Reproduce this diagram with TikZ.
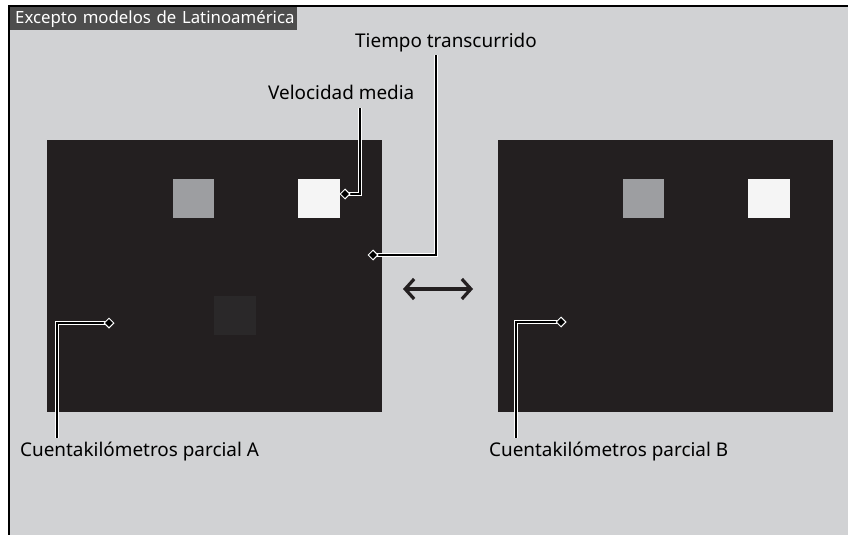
\documentclass[tikz,border=0pt]{standalone}
\usepackage{fontspec}
\setmainfont{Noto Sans}
\usetikzlibrary{shapes.geometric,arrows.meta}
\definecolor{bggray}{HTML}{D1D2D4}
\definecolor{panel}{HTML}{231F20}
\definecolor{hdr}{HTML}{4D4D4D}
\definecolor{midgray}{HTML}{9D9EA1}
\definecolor{offwhite}{HTML}{F5F5F5}
\definecolor{dimsq}{HTML}{2A2829}
\tikzset{
  panelbox/.style={fill=panel, draw=none, anchor=north west, inner sep=0pt, minimum width=335pt, minimum height=272pt},
  sq/.style={draw=none, anchor=north west, inner sep=0pt, minimum width=41pt, minimum height=39pt},
  lbl/.style={font=\fontsize{18.9}{22}\selectfont, text=black, inner sep=0pt, anchor=base west},
  pin/.style={diamond, fill=black, draw=white, line width=1pt, inner sep=0pt, minimum size=10pt},
  leader/.style={draw=white, double=black, double distance=1.7pt, line width=0.9pt},
}
\begin{document}
\begin{tikzpicture}[x=1pt,y=-1pt]
\useasboundingbox (0,0) rectangle (848,535);
\fill[bggray] (9,6) rectangle (848,535);
\draw[black, line width=1.4pt] (9,535) -- (9,6) -- (848,6);
% header
\node[fill=hdr, text=white, anchor=north west, inner sep=0pt, minimum width=287pt, minimum height=23pt, text width=283pt, align=left, font=\fontsize{16.8}{19}\selectfont] (hdr) at (10,7) {\hspace*{3pt}Excepto modelos de Latinoamérica};
% panels
\node[panelbox] (pA) at (47,140) {};
\node[panelbox] (pB) at (498,140) {};
% squares
\node[sq, fill=midgray] (gA) at (173,179) {};
\node[sq, fill=offwhite, minimum width=42pt] (wA) at (298,179) {};
\node[sq, fill=dimsq, minimum width=42pt] (dA) at (214,296) {};
\node[sq, fill=midgray] (gB) at (623,179) {};
\node[sq, fill=offwhite, minimum width=42pt] (wB) at (748,179) {};
% labels
\node[lbl] (lT) at (355,47.5) {Tiempo transcurrido};
\node[lbl] (lV) at (268,99) {Velocidad media};
\node[lbl] (lA) at (20,456.5) {Cuentakilómetros parcial A};
\node[lbl] (lB) at (489,456.5) {Cuentakilómetros parcial B};
% leader corners
\coordinate (cT) at (436,55);
\coordinate (cV) at (360,108);
\coordinate (cA) at (57,438);
\coordinate (cB) at (516,438);
% leaders
\draw[leader] (373,255) -| (cT);
\draw[leader] (345,194) -| (cV);
\draw[leader] (109,323) -| (cA);
\draw[leader] (561,322) -| (cB);
% pins
\node[pin] (pT) at (373,255) {};
\node[pin] (pV) at (345,194) {};
\node[pin] (pA1) at (109,323) {};
\node[pin] (pB1) at (561,322) {};
% double arrow
\coordinate (aL) at (403,289);
\coordinate (aR) at (473,289);
\draw[panel, line width=3.2pt, {Straight Barb[length=9pt,width=20pt]}-{Straight Barb[length=9pt,width=20pt]}] (aL) -- (aR);
\end{tikzpicture}
\end{document}
